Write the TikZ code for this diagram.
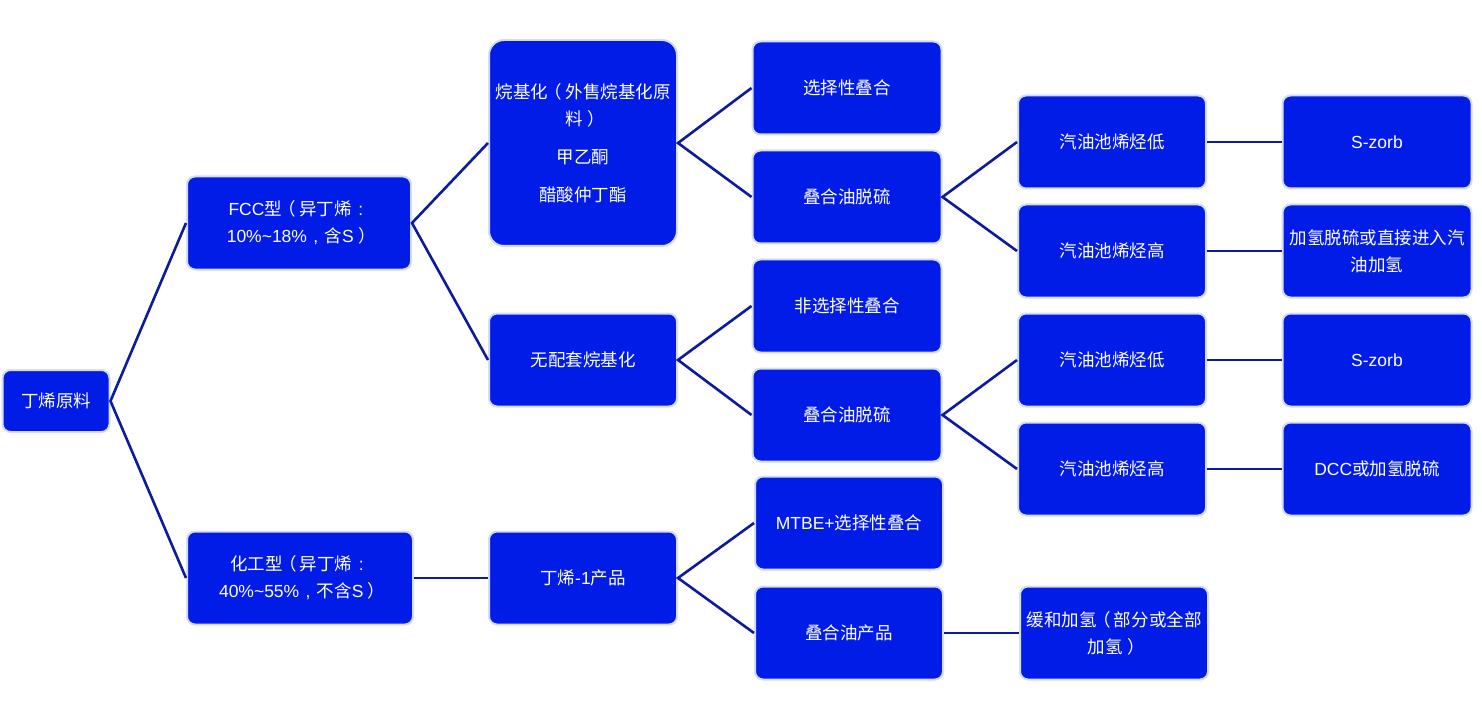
\documentclass[tikz,border=0pt]{standalone}
\usepackage{fontspec}
\setmainfont{Noto Sans CJK SC}
\newfontfamily\lat{Liberation Sans}
\newcommand{\zlp}{\makebox[1em][c]{\hspace*{-0.4em}（}}
\newcommand{\zrp}{\makebox[1em][c]{\hspace*{0.5em}）}}
\newcommand{\zcol}{\makebox[1em][c]{\lat :}}
\newcommand{\zcom}{\makebox[1em][c]{\lat ,}}
\definecolor{boxfill}{RGB}{2,28,232}
\definecolor{boxedge}{RGB}{214,220,255}
\definecolor{linecol}{RGB}{12,26,160}
\begin{document}
\begin{tikzpicture}[x=1pt,y=-1pt,
  box/.style={rectangle, rounded corners=8pt, fill=boxfill, draw=boxedge, line width=2pt,
    text=white, align=center, inner sep=0pt,
    font=\fontsize{17.5}{27}\selectfont},
  conn/.style={draw=linecol, line width=2.6pt}]
\useasboundingbox (0,0) rectangle (1482,719);
% level 0
\node[box, minimum width=107, minimum height=62] (root) at (56,401) {丁烯原料};
% level 1
\node[box, minimum width=224, minimum height=93] (fcc) at (299,223) {{\lat FCC}型\zlp 异丁烯\zcol\\{\lat 10\%\textasciitilde18\%}\zcom 含{\lat S}\zrp};
\node[box, minimum width=226, minimum height=93] (hg) at (300,578) {化工型\zlp 异丁烯\zcol\\{\lat 40\%\textasciitilde55\%}\zcom 不含{\lat S}\zrp};
% level 2
\node[box, rounded corners=15pt, minimum width=188, minimum height=206] (alk) at (583,143) {烷基化\zlp 外售烷基化原\\料\zrp\\[11pt]甲乙酮\\[11pt]醋酸仲丁酯};
\node[box, minimum width=188, minimum height=93] (wpt) at (583,360) {无配套烷基化};
\node[box, minimum width=188, minimum height=93] (db1) at (583,578) {丁烯{\lat -1}产品};
% level 3
\node[box, minimum width=189, minimum height=93] (xz) at (847,88) {选择性叠合};
\node[box, minimum width=189, minimum height=93] (ds1) at (847,197) {叠合油脱硫};
\node[box, minimum width=189, minimum height=93] (fxz) at (847,306) {非选择性叠合};
\node[box, minimum width=189, minimum height=93] (ds2) at (847,415) {叠合油脱硫};
\node[box, minimum width=188, minimum height=93] (mtbe) at (849,523) {{\lat MTBE+}选择性叠合};
\node[box, minimum width=188, minimum height=93] (dhy) at (849,633) {叠合油产品};
% level 4
\node[box, minimum width=188, minimum height=93] (d1) at (1112,142) {汽油池烯烃低};
\node[box, minimum width=188, minimum height=93] (g1) at (1112,251) {汽油池烯烃高};
\node[box, minimum width=188, minimum height=93] (d2) at (1112,360) {汽油池烯烃低};
\node[box, minimum width=188, minimum height=93] (g2) at (1112,469) {汽油池烯烃高};
\node[box, minimum width=188, minimum height=93] (hh) at (1114,633) {缓和加氢\zlp 部分或全部\\加氢\zrp};
% level 5
\node[box, minimum width=189, minimum height=93] (sz1) at (1377,142) {\lat S-zorb};
\node[box, minimum width=189, minimum height=93] (jq) at (1377,251) {加氢脱硫或直接进入汽\\油加氢};
\node[box, minimum width=189, minimum height=93] (sz2) at (1377,360) {\lat S-zorb};
\node[box, minimum width=189, minimum height=93] (dcc) at (1377,469) {{\lat DCC}或加氢脱硫};
% connectors
\path[conn] (fcc.west) -- (root.east) -- (hg.west);
\path[conn] (alk.west) -- (fcc.east) -- (wpt.west);
\path[conn] (hg.east) -- (db1.west);
\path[conn] (xz.west) -- (alk.east) -- (ds1.west);
\path[conn] (fxz.west) -- (wpt.east) -- (ds2.west);
\path[conn] (mtbe.west) -- (db1.east) -- (dhy.west);
\path[conn] (d1.west) -- (ds1.east) -- (g1.west);
\path[conn] (d2.west) -- (ds2.east) -- (g2.west);
\path[conn] (dhy.east) -- (hh.west);
\path[conn] (d1.east) -- (sz1.west);
\path[conn] (g1.east) -- (jq.west);
\path[conn] (d2.east) -- (sz2.west);
\path[conn] (g2.east) -- (dcc.west);
\end{tikzpicture}
\end{document}
